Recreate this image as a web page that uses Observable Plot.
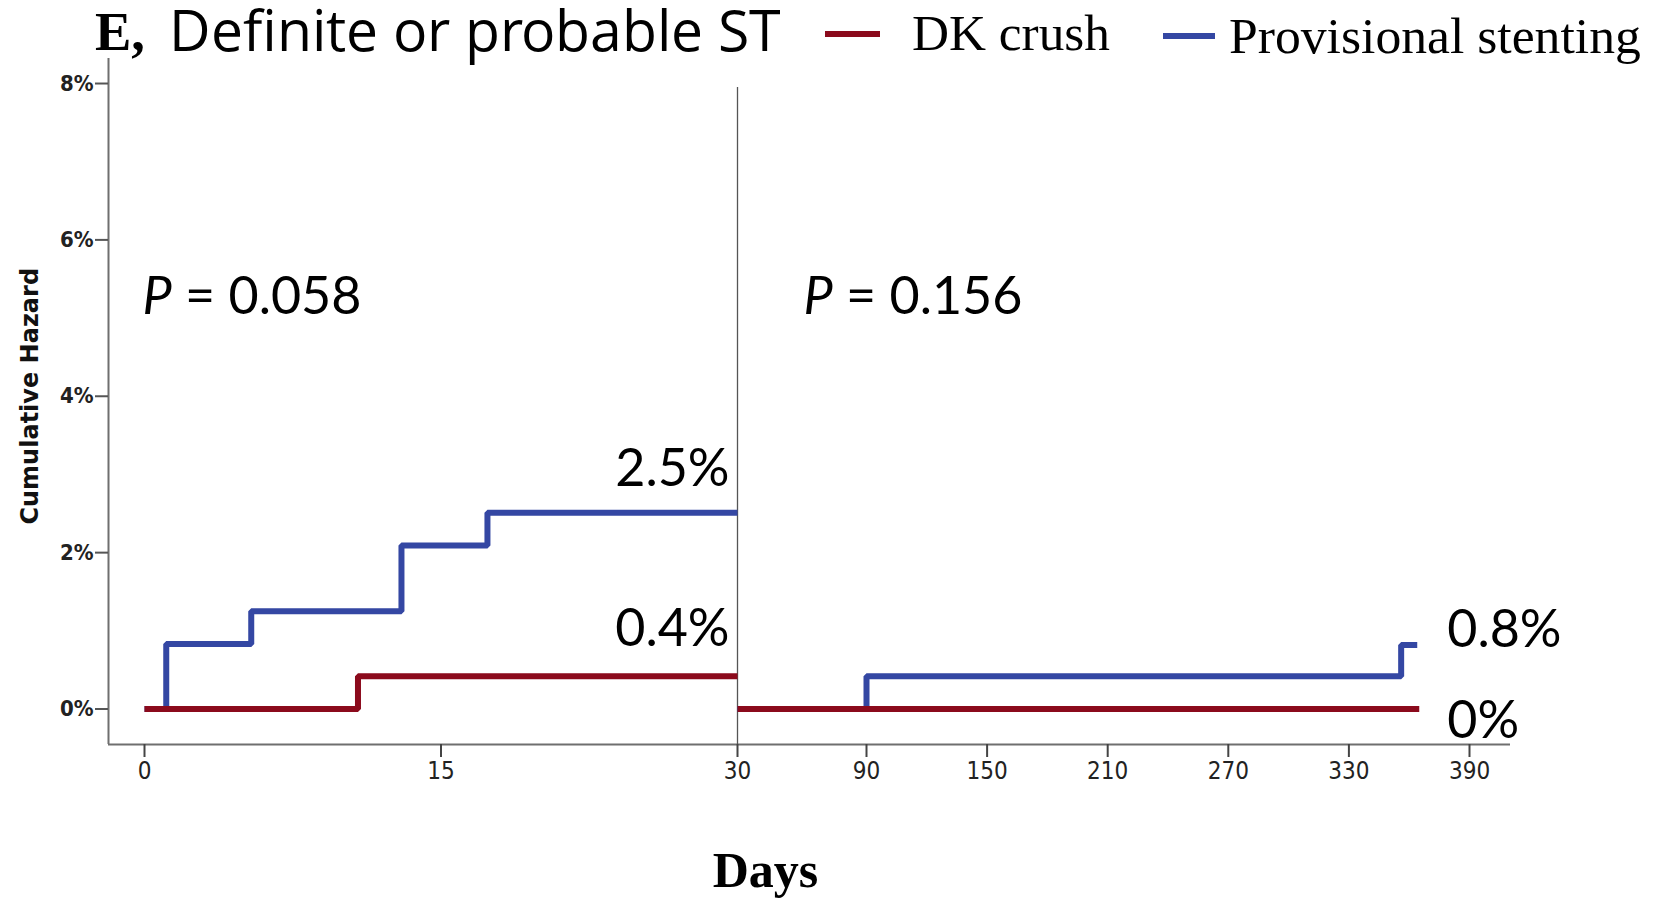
<!DOCTYPE html>
<html>
<head>
<meta charset="utf-8">
<script src="https://cdn.jsdelivr.net/npm/d3@7"></script>
<script src="https://cdn.jsdelivr.net/npm/@observablehq/plot@0.6"></script>
<style>
  @font-face {
    font-family: "TitleSans";
    src: local("Open Sans"), local("Open Sans Regular"), local("OpenSans-Regular");
    ascent-override: 88%;
    descent-override: 26%;
    line-gap-override: 0%;
  }
  html, body { margin: 0; padding: 0; background: #fff; }
  #wrap { width: 1653px; height: 900px; position: relative; overflow: hidden; }
  #header { position: relative; width: 1653px; height: 50px; z-index: 2; }
  #header .t { position: absolute; top: 0; line-height: 1; white-space: nowrap; color: #000; }
  #header .sw { position: absolute; height: 6px; }
  #chart { position: relative; z-index: 1; }
</style>
</head>
<body>
<div id="wrap">
  <div id="header"></div>
  <div id="chart"></div>
</div>
<script>
// ---------- data ----------
const seriesNames = ["DK crush", "Provisional stenting"];
const seriesColors = ["#8b0a1c", "#3447a3"];
// 0–30 days panel
const dkDaysEarly = [0, 10.8, 30];
const dkHazEarly  = [0, 0.42, 0.42];
const psDaysEarly = [0, 1.1, 5.4, 13.0, 17.35, 30];
const psHazEarly  = [0, 0.83, 1.25, 2.09, 2.51, 2.51];
// 30–365 days panel
const dkDaysLate = [30, 365];
const dkHazLate  = [0, 0];
const psDaysLate = [30, 90, 356, 364];
const psHazLate  = [0, 0.42, 0.82, 0.82];
const pValues = ["0.058", "0.156"];
const endLabels = ["2.5%", "0.4%", "0.8%", "0%"];
const xTicks = [0, 15, 30, 90, 150, 210, 270, 330, 390];
const yTicks = [0, 2, 4, 6, 8];
const titleLetter = "E,";
const titleText = "Definite or probable ST";
const yLabel = "Cumulative Hazard";
const xLabel = "Days";

function rows(days, haz, series, panel) {
  return days.map((d, i) => ({day: d, hazard: haz[i], series, panel}));
}
const psRows = [...rows(psDaysEarly, psHazEarly, seriesNames[1], "early"), ...rows(psDaysLate, psHazLate, seriesNames[1], "late")];
const dkRows = [...rows(dkDaysEarly, dkHazEarly, seriesNames[0], "early"), ...rows(dkDaysLate, dkHazLate, seriesNames[0], "late")];
const last = a => a[a.length - 1];

// ---------- header (title + legend) ----------
const header = document.getElementById("header");
function addText(txt, left, baseline, family, weight, targetWidth) {
  const el = document.createElement("div");
  el.className = "t";
  el.style.fontFamily = family;
  el.style.fontWeight = weight;
  el.style.fontSize = "100px";
  el.style.left = left + "px";
  const span = document.createElement("span");
  span.textContent = txt;
  const marker = document.createElement("span");
  marker.style.cssText = "display:inline-block;width:0;height:0;vertical-align:baseline";
  el.appendChild(span); el.appendChild(marker);
  header.appendChild(el);
  const w = span.getBoundingClientRect().width;
  const fs = 100 * targetWidth / w;
  el.style.fontSize = fs + "px";
  const off = marker.getBoundingClientRect().top - el.getBoundingClientRect().top;
  el.style.top = (baseline - off) + "px";
  return el;
}
function addSwatch(left, top, width, color) {
  const el = document.createElement("div");
  el.className = "sw";
  el.style.left = left + "px"; el.style.top = top + "px";
  el.style.width = width + "px"; el.style.background = color;
  header.appendChild(el);
}
const SERIF = "'Liberation Serif', 'Times New Roman', serif";
const CAL = "Lato, 'Open Sans', sans-serif";

function buildHeader() {
  header.innerHTML = "";
  addText(titleLetter, 95, 50, SERIF, "bold", 50);
  addText(titleText, 169, 51, "TitleSans, 'Open Sans', sans-serif", "normal", 609);
  addSwatch(825, 31, 55, seriesColors[0]);
  addText(seriesNames[0], 912, 50, SERIF, "normal", 198);
  addSwatch(1163, 33, 52, seriesColors[1]);
  addText(seriesNames[1], 1229, 53, SERIF, "normal", 412);
}
buildHeader();
if (document.fonts && document.fonts.load) {
  document.fonts.load("50px TitleSans").then(buildHeader, () => {});
}

// ---------- chart ----------
const AX = "'DejaVu Sans Condensed', 'DejaVu Sans', sans-serif";
const annot = {fontFamily: CAL, fontSize: 52, fill: "#000", lineAnchor: "bottom"};

const chart = Plot.plot({
  width: 1653,
  height: 850,
  marginLeft: 108,
  marginRight: 143,
  marginTop: 8,
  marginBottom: 156,
  style: {background: "transparent", overflow: "visible"},
  x: {type: "linear", domain: [-1.82, 0, 30, 90, 390, 410.5], range: [108, 144, 737, 866, 1469, 1510]},
  y: {domain: [-0.454, 8.32], range: [694, 8]},
  color: {domain: seriesNames, range: seriesColors},
  marks: [
    // frame lines
    Plot.ruleX([-1.82], {stroke: "#6f6f6f", strokeWidth: 2}),
    Plot.ruleY([-0.454], {stroke: "#6f6f6f", strokeWidth: 2}),
    Plot.ruleX([30], {y1: -0.454, y2: 7.95, stroke: "#555", strokeWidth: 1.3}),
    Plot.axisX({ticks: xTicks, tickSize: 13, tickPadding: 4, tickFormat: d => String(d), label: null,
      fontFamily: AX, fontSize: 24, color: "#222", strokeWidth: 2, stroke: "#444"}),
    Plot.axisY({ticks: yTicks, tickSize: 13, tickPadding: 2, tickFormat: d => d + "%", label: null,
      fontFamily: AX, fontSize: 22, fontWeight: "bold", color: "#222", strokeWidth: 2, stroke: "#555"}),
    Plot.text([yLabel], {y: [yTicks[2]], frameAnchor: "left", textAnchor: "middle", rotate: -90, dx: -78,
      fontFamily: "'DejaVu Sans', sans-serif", fontWeight: "bold", fontSize: 24, fill: "#111"}),
    Plot.text([xLabel], {frameAnchor: "bottom", dx: -44, dy: 142, lineAnchor: "bottom", fontFamily: SERIF,
      fontWeight: "bold", fontSize: 50, fill: "#000"}),
    // curves
    Plot.line(psRows, {x: "day", y: "hazard", z: "panel", stroke: "series", curve: "step-after", strokeWidth: 6,
      strokeLinejoin: "miter", strokeLinecap: "butt"}),
    Plot.line(dkRows, {x: "day", y: "hazard", z: "panel", stroke: "series", curve: "step-after", strokeWidth: 6,
      strokeLinejoin: "miter", strokeLinecap: "butt"}),
    // P values
    Plot.text([pValues[0]], {x: dkDaysEarly[0], frameAnchor: "top", text: d => "P = " + d, textAnchor: "start",
      dx: -2, dy: 255, ...annot, fontSize: 52}),
    Plot.text([pValues[1]], {x: dkDaysLate[0], frameAnchor: "top", text: d => "P = " + d, textAnchor: "start",
      dx: 66, dy: 255, ...annot, fontSize: 52}),
    // end labels
    Plot.text([endLabels[0]], {x: [last(psDaysEarly)], y: [last(psHazEarly)], text: d => d, textAnchor: "end", dx: -8, dy: -27, ...annot}),
    Plot.text([endLabels[1]], {x: [last(dkDaysEarly)], y: [last(dkHazEarly)], text: d => d, textAnchor: "end", dx: -8, dy: -30, ...annot}),
    Plot.text([endLabels[2]], {x: [last(psDaysLate)], y: [last(psHazLate)], text: d => d, textAnchor: "start", dx: 30, dy: 2, ...annot}),
    Plot.text([endLabels[3]], {x: [last(dkDaysLate)], y: [last(dkHazLate)], text: d => d, textAnchor: "start", dx: 28, dy: 29, ...annot})
  ]
});
document.getElementById("chart").appendChild(chart);

// italic P in the P-value labels
chart.querySelectorAll("text").forEach(t => {
  const s = t.textContent;
  if (s.startsWith("P = ")) {
    t.textContent = "";
    const a = document.createElementNS("http://www.w3.org/2000/svg", "tspan");
    a.setAttribute("font-style", "italic");
    a.textContent = "P";
    const b = document.createElementNS("http://www.w3.org/2000/svg", "tspan");
    b.textContent = s.slice(1);
    t.appendChild(a); t.appendChild(b);
  }
});
</script>
</body>
</html>
